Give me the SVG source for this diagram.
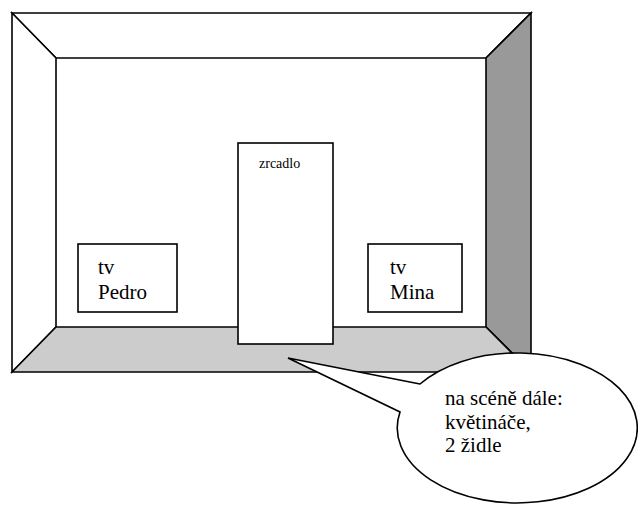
<svg xmlns="http://www.w3.org/2000/svg" width="638" height="506" viewBox="0 0 638 506">
<style>
.ln{stroke:#000;stroke-width:1.6;stroke-linejoin:miter}
.box{fill:#fff;stroke:#000;stroke-width:1.6}
text{font-family:'Liberation Serif','Times New Roman',serif;fill:#000;font-size:21px}
</style>
<rect width="638" height="506" fill="#fff"/>
<g id="stage">
<polygon class="ln" points="12,13 531,13 486,58 56,58" fill="#fff"/>
<polygon class="ln" points="12,13 56,58 56,327 12,372" fill="#fff"/>
<polygon class="ln" points="531,13 531,372 486,327 486,58" fill="#999"/>
<polygon class="ln" points="12,372 56,327 486,327 531,372" fill="#ccc"/>
</g>
<g id="zrcadlo">
<rect class="box" x="238" y="143" width="95" height="201"/>
<text x="259" y="168" style="font-size:14px">zrcadlo</text>
</g>
<g id="tv-pedro">
<rect class="box" x="78" y="244" width="99" height="68"/>
<text x="98" y="274">tv</text>
<text x="98" y="299">Pedro</text>
</g>
<g id="tv-mina">
<rect class="box" x="368" y="244" width="94" height="68"/>
<text x="390" y="274">tv</text>
<text x="390" y="299">Mina</text>
</g>
<g id="callout">
<path class="box" d="M420,384 L288,358 L400,412 A120,75 0 1 0 420,384 Z"/>
<text x="445" y="405">na scéně dále:</text>
<text x="445" y="428.5">květináče,</text>
<text x="445" y="452">2 židle</text>
</g>
</svg>
